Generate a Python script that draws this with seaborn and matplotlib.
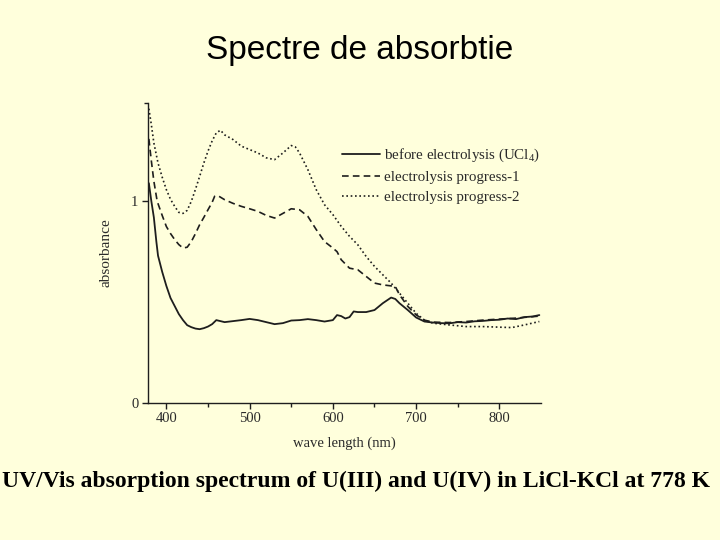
import numpy as np
import pandas as pd
import matplotlib
matplotlib.use('Agg')
import matplotlib.pyplot as plt
import seaborn as sns

# ---------- data ----------
wl_before = [379, 382, 385, 388, 390, 395, 400, 405, 410, 415, 420, 425, 430, 435, 440, 445, 450,
             455, 460, 465, 470, 480, 490, 500, 510, 520, 530, 540, 550, 560, 570, 580, 590, 600,
             605, 610, 615, 620, 625, 630, 640, 650, 660, 670, 675, 680, 690, 700, 710, 720, 730,
             740, 750, 760, 770, 780, 790, 800, 810, 820, 830, 840, 848]
abs_before = [1.09, 1.00, 0.92, 0.80, 0.73, 0.65, 0.58, 0.52, 0.48, 0.44, 0.41, 0.385, 0.375, 0.368,
              0.365, 0.37, 0.378, 0.39, 0.41, 0.405, 0.40, 0.405, 0.41, 0.416, 0.41, 0.40, 0.39,
              0.395, 0.408, 0.41, 0.415, 0.41, 0.403, 0.41, 0.435, 0.43, 0.418, 0.425, 0.453, 0.45,
              0.45, 0.46, 0.494, 0.522, 0.515, 0.494, 0.46, 0.423, 0.403, 0.398, 0.395, 0.394,
              0.40, 0.398, 0.404, 0.406, 0.41, 0.412, 0.418, 0.415, 0.425, 0.428, 0.435]

wl_prog1 = [379, 382, 385, 389, 395, 400, 405, 410, 415, 420, 425, 430, 435, 440, 445, 450, 455,
            458, 462, 470, 480, 490, 500, 510, 520, 530, 540, 550, 560, 570, 580, 590, 600, 605,
            610, 620, 630, 640, 650, 660, 670, 675, 680, 690, 700, 710, 720, 740, 760, 780, 800,
            820, 848]
abs_prog1 = [1.31, 1.20, 1.10, 1.00, 0.93, 0.875, 0.84, 0.81, 0.785, 0.768, 0.772, 0.80, 0.84,
             0.884, 0.92, 0.958, 0.995, 1.025, 1.028, 1.008, 0.99, 0.975, 0.963, 0.95, 0.93,
             0.917, 0.94, 0.963, 0.958, 0.925, 0.86, 0.80, 0.768, 0.75, 0.71, 0.668, 0.66,
             0.627, 0.594, 0.585, 0.58, 0.577, 0.536, 0.478, 0.436, 0.41, 0.40, 0.398, 0.403,
             0.41, 0.415, 0.42, 0.43]

wl_prog2 = [379, 382, 385, 390, 395, 400, 405, 410, 415, 420, 425, 430, 435, 440, 445, 450, 455,
            460, 465, 470, 480, 490, 500, 510, 520, 530, 540, 550, 555, 560, 570, 580, 590, 600,
            610, 620, 630, 640, 650, 660, 670, 680, 690, 700, 710, 720, 740, 760, 780, 800, 815,
            830, 848]
abs_prog2 = [1.46, 1.38, 1.29, 1.19, 1.12, 1.058, 1.01, 0.975, 0.945, 0.94, 0.955, 1.00, 1.06,
             1.124, 1.19, 1.249, 1.30, 1.34, 1.353, 1.33, 1.307, 1.274, 1.257, 1.24, 1.216,
             1.207, 1.24, 1.277, 1.27, 1.24, 1.157, 1.058, 0.983, 0.934, 0.876, 0.826, 0.784,
             0.726, 0.677, 0.635, 0.594, 0.544, 0.494, 0.444, 0.41, 0.395, 0.386, 0.378, 0.378,
             0.375, 0.373, 0.386, 0.403]

labels = ['before electrolysis (UCl$_4$)', 'electrolysis progress-1', 'electrolysis progress-2']
x_ticks = [400, 500, 600, 700, 800]
y_ticks = [0, 1]

bg = '#FFFFDC'
ink = '#1e1e1e'
serif = ['Liberation Serif', 'DejaVu Serif']

sns.set_style('ticks')
plt.rcParams['font.family'] = serif
plt.rcParams['mathtext.fontset'] = 'custom'
plt.rcParams['mathtext.rm'] = 'Liberation Serif'

fig = plt.figure(figsize=(7.2, 5.4), dpi=100, facecolor=bg)
ax = fig.add_axes([0.2056, 0.2543, 0.5458, 0.5556])
ax.set_facecolor(bg)

series = [(wl_before, abs_before, '-', 1.3),
          (wl_prog1, abs_prog1, (0, (4, 2.5)), 1.2),
          (wl_prog2, abs_prog2, (0, (1, 1.6)), 1.2)]
for (wl, ab, ls, lw), lab in zip(series, labels):
    df = pd.DataFrame({'wave length (nm)': wl, 'absorbance': ab})
    sns.lineplot(data=df, x='wave length (nm)', y='absorbance', ax=ax, color=ink,
                 linestyle=ls, linewidth=lw, label=lab)

ax.set_xlim(378, 850)
ax.set_ylim(0, 1.49)
ax.set_xticks(x_ticks)
ax.set_xticks([450, 550, 650, 750], minor=True)
ax.set_yticks(y_ticks)
ax.set_yticks([1.49], minor=True)
sns.despine(ax=ax)
for s in ['left', 'bottom']:
    ax.spines[s].set_color(ink)
    ax.spines[s].set_linewidth(1.0)
ax.tick_params(axis='both', which='major', length=4, width=1.0, color=ink,
               labelsize=10.5, labelcolor='#2a2a2a', pad=3)
ax.tick_params(axis='both', which='minor', length=3, width=1.0, color=ink)

ax.set_xlabel('wave length (nm)', fontsize=10.5, color='#2a2a2a', labelpad=8)
ax.set_ylabel('absorbance', fontsize=11, color='#2a2a2a', labelpad=13)

leg = ax.legend(loc='upper left', bbox_to_anchor=(0.475, 0.728), bbox_transform=fig.transFigure,
                frameon=False, fontsize=10.8, handlelength=2.5, handletextpad=0.3,
                labelspacing=0.42, borderpad=0, borderaxespad=0)
for t in leg.get_texts():
    t.set_color('#2a2a2a')

fig.text(0.499, 0.891, 'Spectre de absorbtie', ha='center', va='baseline',
         fontsize=24, family=['Liberation Sans', 'DejaVu Sans'], color='black')
fig.text(0.003, 0.099, 'UV/Vis absorption spectrum of U(III) and U(IV) in LiCl-KCl at 778 K',
         ha='left', va='baseline', fontsize=17, fontweight='bold',
         family=serif, color='black')

fig.savefig('out.png', dpi=100, facecolor=bg)
